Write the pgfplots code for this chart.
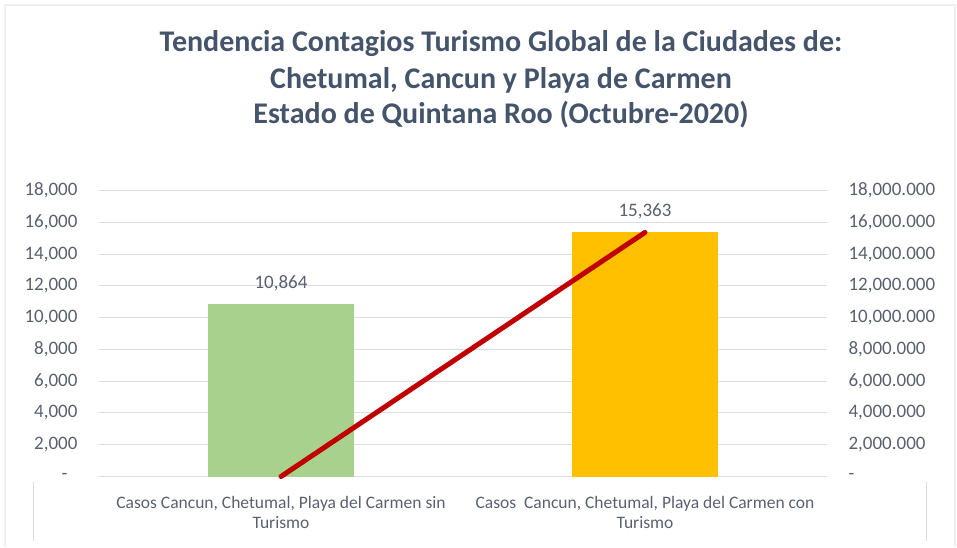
\documentclass[border=0pt]{standalone}
\usepackage{pgfplots}
\pgfplotsset{compat=1.18}
\usepackage{fontspec}
\setmainfont{Carlito}
\definecolor{titlec}{RGB}{68,84,106}
\definecolor{tickc}{RGB}{89,96,112}
\definecolor{gridc}{RGB}{217,222,230}
\definecolor{framec}{RGB}{238,240,243}
\definecolor{barg}{RGB}{169,209,142}
\definecolor{baro}{RGB}{255,192,0}
\definecolor{redl}{RGB}{192,0,0}
\begin{document}
\begin{tikzpicture}
\useasboundingbox (0pt,0pt) rectangle (957pt,547pt);
\draw[framec, line width=1.2pt] (5pt,0pt) -- (5pt,542pt) -- (955pt,542pt) -- (955pt,0pt);
\draw[gridc, line width=1pt] (33pt,65pt) -- (33pt,6pt);
\draw[gridc, line width=1pt] (926pt,65pt) -- (926pt,6pt);
\node[font=\fontsize{30}{34}\selectfont\bfseries, text=titlec] at (501pt,503pt) {Tendencia Contagios Turismo Global de la Ciudades de:};
\node[font=\fontsize{30}{34}\selectfont\bfseries, text=titlec] at (501pt,467pt) {Chetumal, Cancun y Playa de Carmen};
\node[font=\fontsize{30}{34}\selectfont\bfseries, text=titlec] at (501pt,432pt) {Estado de Quintana Roo (Octubre-2020)};
\begin{axis}[
  at={(99pt,70.5pt)}, anchor=south west,
  scale only axis, width=728pt, height=286pt,
  xmin=-0.5, xmax=1.5, ymin=0, ymax=18000,
  axis line style={draw=none},
  major tick length=0pt,
  scaled y ticks=false,
  ymajorgrids, grid style={gridc, line width=1pt},
  ytick={0,2000,4000,6000,8000,10000,12000,14000,16000,18000},
  yticklabels={{-\kern 10pt},{2,000},{4,000},{6,000},{8,000},{10,000},{12,000},{14,000},{16,000},{18,000}},
  yticklabel style={font=\fontsize{19}{22}\selectfont, text=tickc, anchor=east, xshift=-18pt},
  xtick={0,1},
  xticklabels={{Casos Cancun, Chetumal, Playa del Carmen sin\\Turismo},{Casos\ \ Cancun, Chetumal, Playa del Carmen con\\Turismo}},
  xticklabel style={font=\fontsize{17.5}{20}\selectfont, text=tickc, align=center, anchor=north, yshift=-16pt},
  enlargelimits=false,
]
\addplot[ybar, bar width=146pt, draw=none, fill=barg,
  nodes near coords={\pgfmathprintnumber[1000 sep={,}, assume math mode=true]{\pgfplotspointmeta}},
  every node near coord/.append style={font=\fontsize{19}{22}\selectfont, text=tickc, anchor=center, yshift=21pt}]
  coordinates {(0,10864)};
\addplot[ybar, bar width=146pt, draw=none, fill=baro,
  nodes near coords={\pgfmathprintnumber[1000 sep={,}, assume math mode=true]{\pgfplotspointmeta}},
  every node near coord/.append style={font=\fontsize{19}{22}\selectfont, text=tickc, anchor=center, yshift=21pt}]
  coordinates {(1,15363)};
\end{axis}
\begin{axis}[
  at={(99pt,70.5pt)}, anchor=south west,
  scale only axis, width=728pt, height=286pt,
  xmin=-0.5, xmax=1.5, ymin=0, ymax=18000000,
  axis line style={draw=none},
  axis y line*=right, hide x axis,
  major tick length=0pt,
  scaled y ticks=false,
  ytick={0,2000000,4000000,6000000,8000000,10000000,12000000,14000000,16000000,18000000},
  yticklabels={{-},{2,000.000},{4,000.000},{6,000.000},{8,000.000},{10,000.000},{12,000.000},{14,000.000},{16,000.000},{18,000.000}},
  yticklabel style={font=\fontsize{19}{22}\selectfont, text=tickc, anchor=west, xshift=18pt},
  clip=false,
]
\addplot[redl, line width=5pt, line cap=round] coordinates {(0,0) (1,15363000)};
\end{axis}
\end{tikzpicture}
\end{document}
